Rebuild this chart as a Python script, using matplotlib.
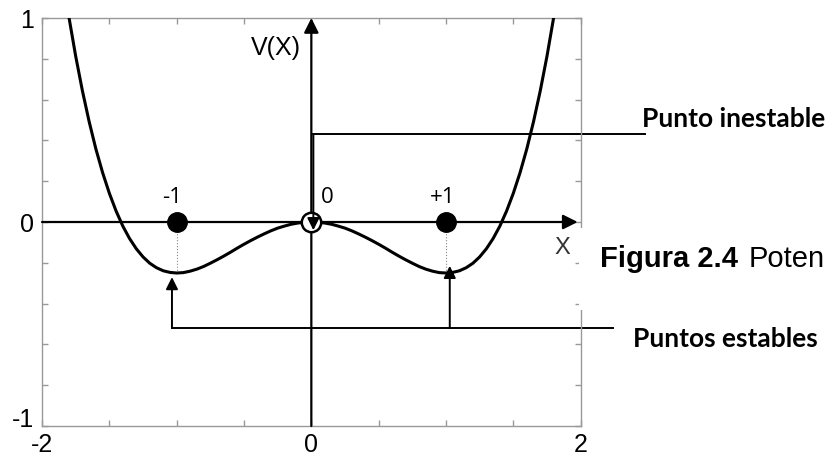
import numpy as np
import matplotlib
matplotlib.use("Agg")
import matplotlib.pyplot as plt
from matplotlib.patches import Rectangle
from matplotlib.transforms import ScaledTranslation

# Double-well potential V(x), sampled on x >= 0 (curve is symmetric)
x_half = [0.0, 0.05, 0.1, 0.15, 0.2, 0.25, 0.3, 0.35, 0.4, 0.45, 0.5,
          0.55, 0.6, 0.65, 0.7, 0.75, 0.8, 0.85, 0.9, 0.95, 1.0,
          1.05, 1.1, 1.15, 1.2, 1.25, 1.3, 1.35, 1.4, 1.45, 1.5,
          1.55, 1.6, 1.65, 1.7, 1.75, 1.8, 1.85, 1.9]
v_half = [0.0, -0.001, -0.005, -0.011, -0.020, -0.030, -0.043, -0.058, -0.074, -0.091, -0.109,
          -0.128, -0.148, -0.167, -0.185, -0.202, -0.218, -0.231, -0.241, -0.248, -0.250,
          -0.247, -0.239, -0.224, -0.202, -0.171, -0.131, -0.081, -0.020, 0.054, 0.141,
          0.242, 0.358, 0.492, 0.643, 0.813, 1.004, 1.217, 1.453]

# equilibrium points
stable_x = [-1, 1]
unstable_x = [0]
point_labels = ["-1", "0", "+1"]
label_x = [-1.035, 0.115, 0.976]

x_ticks = [-2, -1.5, -1, -0.5, 0, 0.5, 1, 1.5, 2]
x_ticklabels = ["-2", "", "", "", "0", "", "", "", "2"]
y_ticks = [-1, -0.8, -0.6, -0.4, -0.2, 0, 0.2, 0.4, 0.6, 0.8, 1]
y_ticklabels = ["-1", "", "", "", "", "0", "", "", "", "", "1"]

x_curve = np.concatenate([-np.array(x_half[:0:-1]), x_half])
v_curve = np.concatenate([np.array(v_half[:0:-1]), v_half])

fig = plt.figure(figsize=(8.32, 4.57), dpi=100)
ax = fig.add_axes([0.0505, 0.0678, 0.6474, 0.8928])
ax.set_xlim(-2, 2)
ax.set_ylim(-1, 1)

for s in ax.spines.values():
    s.set_color("#999999")
    s.set_linewidth(1)
ax.set_xticks(x_ticks)
ax.set_xticklabels(x_ticklabels)
ax.set_yticks(y_ticks)
ax.set_yticklabels(y_ticklabels)
ax.tick_params(direction="in", top=True, right=True, length=4, width=1,
               color="#999999", labelsize=18)
ax.tick_params(axis="x", pad=5)
ax.tick_params(axis="y", pad=6)
for lab in ax.get_xticklabels() + ax.get_yticklabels():
    lab.set_family("Liberation Sans")
# lift the bottom y label clear of the x labels
ylab_bottom = ax.get_yticklabels()[0]
ylab_bottom.set_transform(ylab_bottom.get_transform()
                          + ScaledTranslation(0, 6 / 72, fig.dpi_scale_trans))

# axes with arrows
ax.annotate("", xy=(0, 1), xytext=(0, -1),
            arrowprops=dict(arrowstyle="-|>", lw=1.6, color="black",
                            mutation_scale=22, shrinkA=0, shrinkB=0))
ax.annotate("", xy=(1.978, 0), xytext=(-2, 0),
            arrowprops=dict(arrowstyle="-|>", lw=1.6, color="black",
                            mutation_scale=22, shrinkA=0, shrinkB=0))

# dotted guides from points to minima
for xs in stable_x:
    ax.plot([xs, xs], [0, -0.25], color="#888888", lw=0.8, ls=":")

ax.plot(x_curve, v_curve, color="black", lw=2.2, solid_joinstyle="round", zorder=3)

ax.plot(stable_x, [0, 0], "o", color="black", ms=14, zorder=5)
ax.plot(unstable_x, [0], "o", mfc="white", mec="black", mew=1.8, ms=14, zorder=5)

for lx, lt in zip(label_x, point_labels):
    ax.text(lx, 0.093, lt, ha="center", va="baseline", fontsize=16, family="Open Sans")

ax.text(-0.263, 0.853, "V(X)", ha="center", va="center", fontsize=18, family="Liberation Sans")
ax.text(1.866, -0.127, "X", ha="center", va="center", fontsize=17, family="Liberation Sans",
        color="#333333")

# unstable point callout
ax.plot([0.015, 2.475], [0.43, 0.43], color="black", lw=1.4, clip_on=False)
ax.annotate("", xy=(0.015, -0.04), xytext=(0.015, 0.43),
            arrowprops=dict(arrowstyle="-|>", lw=1.4, color="black",
                            mutation_scale=18, shrinkA=0, shrinkB=0), zorder=6)

# stable points callout
ax.plot([-1.035, 2.24], [-0.52, -0.52], color="black", lw=1.4, clip_on=False)
ax.annotate("", xy=(-1.035, -0.27), xytext=(-1.035, -0.52),
            arrowprops=dict(arrowstyle="-|>", lw=1.4, color="black",
                            mutation_scale=18, shrinkA=0, shrinkB=0))
ax.annotate("", xy=(1.028, -0.215), xytext=(1.028, -0.52),
            arrowprops=dict(arrowstyle="-|>", lw=1.4, color="black",
                            mutation_scale=18, shrinkA=0, shrinkB=0))

fig.text(0.7716, 0.722, "Punto inestable", fontsize=19, weight="bold",
         family="Lato", va="baseline")
fig.text(0.7608, 0.2407, "Puntos estables", fontsize=19, weight="bold",
         family="Lato", va="baseline")

# caption box sitting over the right edge of the plot
fig.patches.append(Rectangle((579 / 832, (457 - 310) / 457), 253 / 832, 82 / 457,
                             transform=fig.transFigure, facecolor="white",
                             edgecolor="none", zorder=10))
fig.text(0.7212, 0.4158, "Figura 2.4", fontsize=21, weight="bold",
         family="Liberation Sans", va="baseline", zorder=11)
fig.text(0.9, 0.4158, "Poten", fontsize=21,
         family="Liberation Sans", va="baseline", zorder=11)

fig.savefig("out.png", dpi=100)
